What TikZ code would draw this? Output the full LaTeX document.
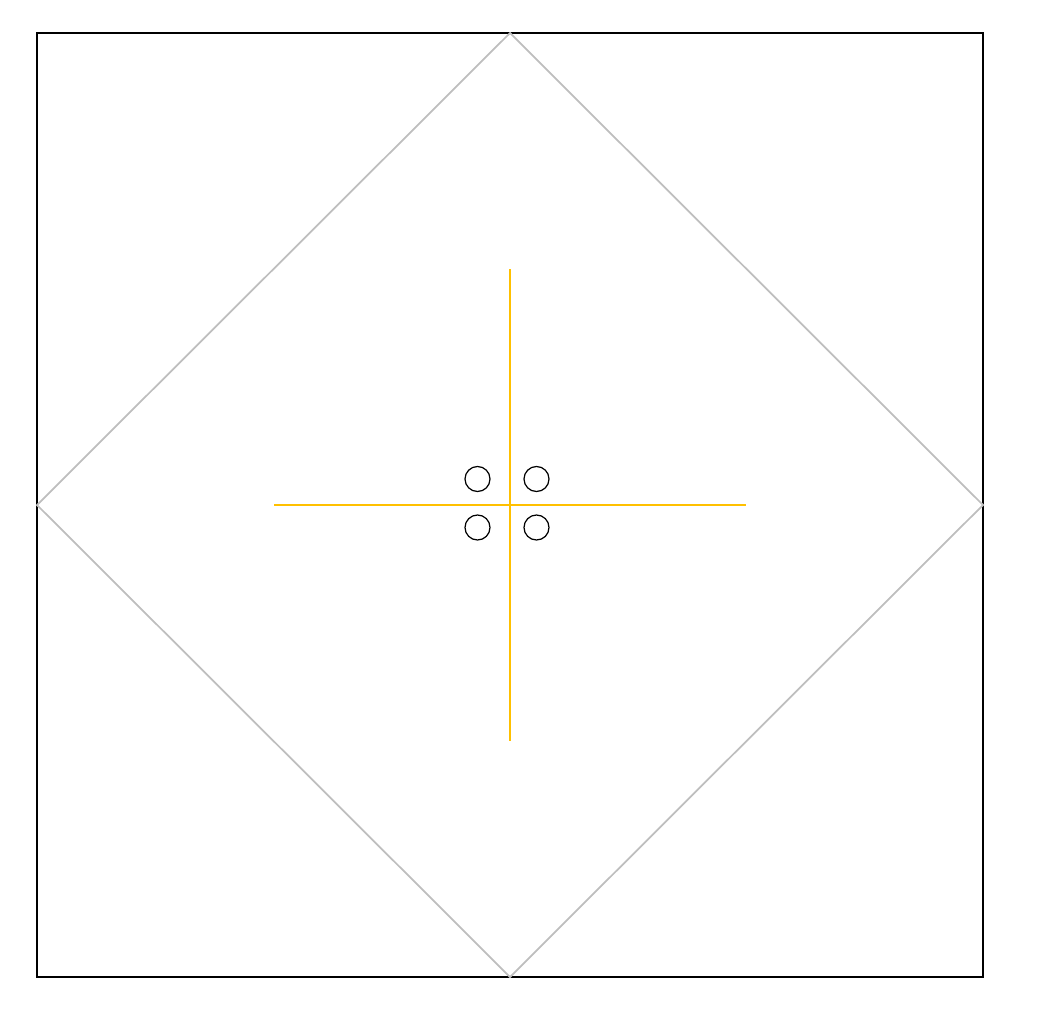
\documentclass[tikz,border=0pt]{standalone}
\begin{document}
\begin{tikzpicture}[x=0.01cm,y=-0.01cm,
  frame/.style={draw=black,line width=0.6pt},
  diam/.style={draw={rgb,255:red,190;green,190;blue,190},line width=0.5pt},
  crossline/.style={draw={rgb,255:red,255;green,192;blue,0},line width=0.6pt},
  dot/.style={circle,draw=black,line width=0.35pt,minimum size=0.25cm,inner sep=0pt}]
\useasboundingbox (0,0) rectangle (1037,1024);
\coordinate (tl) at (37,33);
\coordinate (br) at (983,977);
\coordinate (dt) at (510,33);
\coordinate (dr) at (983,505);
\coordinate (db) at (510,977);
\coordinate (dl) at (37,505);
\coordinate (vt) at (510,269);
\coordinate (vb) at (510,741);
\coordinate (hl) at (274,505);
\coordinate (hr) at (746,505);
\draw[frame] (tl) rectangle (br);
\draw[diam] (dt) -- (dr) -- (db) -- (dl) -- cycle;
\draw[crossline] (vt) -- (vb);
\draw[crossline] (hl) -- (hr);
\node[dot] (c1) at (477.5,479) {};
\node[dot] (c2) at (536.5,479) {};
\node[dot] (c3) at (477.5,527.5) {};
\node[dot] (c4) at (536.5,527.5) {};
\end{tikzpicture}
\end{document}
